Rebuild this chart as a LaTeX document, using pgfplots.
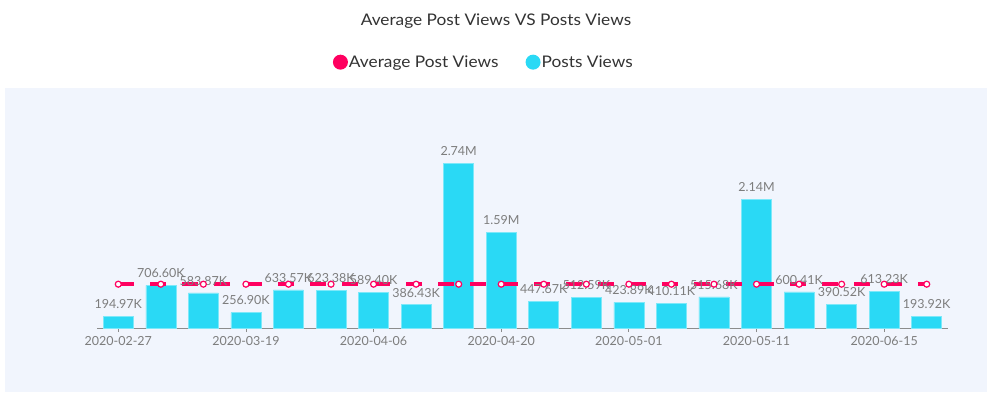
\documentclass[border=0pt]{standalone}
\usepackage{fontspec}
\setmainfont{Lato}
\newfontfamily\widefont[FakeStretch=1.08]{Lato}
\usepackage{pgfplots}
\usepackage{pgfplotstable}
\pgfplotsset{compat=1.18}
\definecolor{bgc}{RGB}{241,245,253}
\definecolor{barc}{RGB}{42,217,245}
\definecolor{barb}{RGB}{125,232,249}
\definecolor{linec}{RGB}{255,0,96}
\definecolor{txt}{RGB}{51,51,51}
\definecolor{lbl}{RGB}{125,125,125}
\pgfplotstableread{
x y lab
0 194970 194.97K
1 706600 706.60K
2 583870 583.87K
3 256900 256.90K
4 633570 633.57K
5 623380 623.38K
6 589400 589.40K
7 386430 386.43K
8 2740000 2.74M
9 1590000 1.59M
10 447670 447.67K
11 512590 512.59K
12 423890 423.89K
13 410110 410.11K
14 515680 515.68K
15 2140000 2.14M
16 600410 600.41K
17 390520 390.52K
18 613230 613.23K
19 193920 193.92K
}\views
\pgfplotstableread{
x y
0 727660
1 727660
2 727660
3 727660
4 727660
5 727660
6 727660
7 727660
8 727660
9 727660
10 727660
11 727660
12 727660
13 727660
14 727660
15 727660
16 727660
17 727660
18 727660
19 727660
}\avg
\begin{document}
\begin{tikzpicture}[x=1pt,y=1pt]
\path[use as bounding box] (0,0) rectangle (991,392);
\fill[bgc] (5,0) rectangle (987,304);
\node[font=\widefont\fontsize{16}{18}\selectfont, text=txt] at (496,370.5) {Average Post Views VS Posts Views};
\begin{axis}[
  at={(97pt,64pt)}, anchor=south west, scale only axis,
  width=851pt, height=180.6pt,
  xmin=-0.5, xmax=19.5, ymin=0, ymax=3000000,
  axis y line=none, axis x line*=bottom,
  x axis line style={draw=gray!90, line width=0.8pt, -},
  xtick={0,3,6,9,12,15,18},
  xticklabels={2020-02-27,2020-03-19,2020-04-06,2020-04-20,2020-05-01,2020-05-11,2020-06-15},
  xtick style={draw=gray!90, line width=0.8pt},
  tick align=outside, major tick length=4pt,
  xticklabel style={font=\fontsize{12.5}{14}\selectfont, text=lbl, yshift=-1pt},
  legend style={at={(0.454,1.472)}, anchor=center, draw=none, fill=none,
    legend columns=2, font=\widefont\fontsize{16}{18}\selectfont, text=txt,
    /tikz/every even column/.append style={column sep=26pt},
    nodes={inner sep=1pt},
    legend cell align=left, inner sep=0pt},
  legend image code/.code={\fill[#1] (0pt,0pt) circle (7.5pt);},
  clip=false,
]
\addlegendimage{fill=linec, draw=none}
\addlegendentry{Average Post Views}
\addlegendimage{fill=barc, draw=none}
\addlegendentry{Posts Views}
\addplot[ybar, bar width=30pt, fill=barc, draw=barb, line width=0.6pt,
  nodes near coords, point meta=explicit symbolic,
  every node near coord/.append style={font=\fontsize{12.5}{14}\selectfont, text=lbl, yshift=4pt}]
  table[x=x, y=y, meta=lab] {\views};
\addplot[linec, line width=4pt, dash pattern=on 16pt off 16pt,
  mark=*, mark size=3pt, mark options={solid, fill=white, draw=linec, line width=1.2pt}]
  table[x=x, y=y] {\avg};
\end{axis}
\end{tikzpicture}
\end{document}
